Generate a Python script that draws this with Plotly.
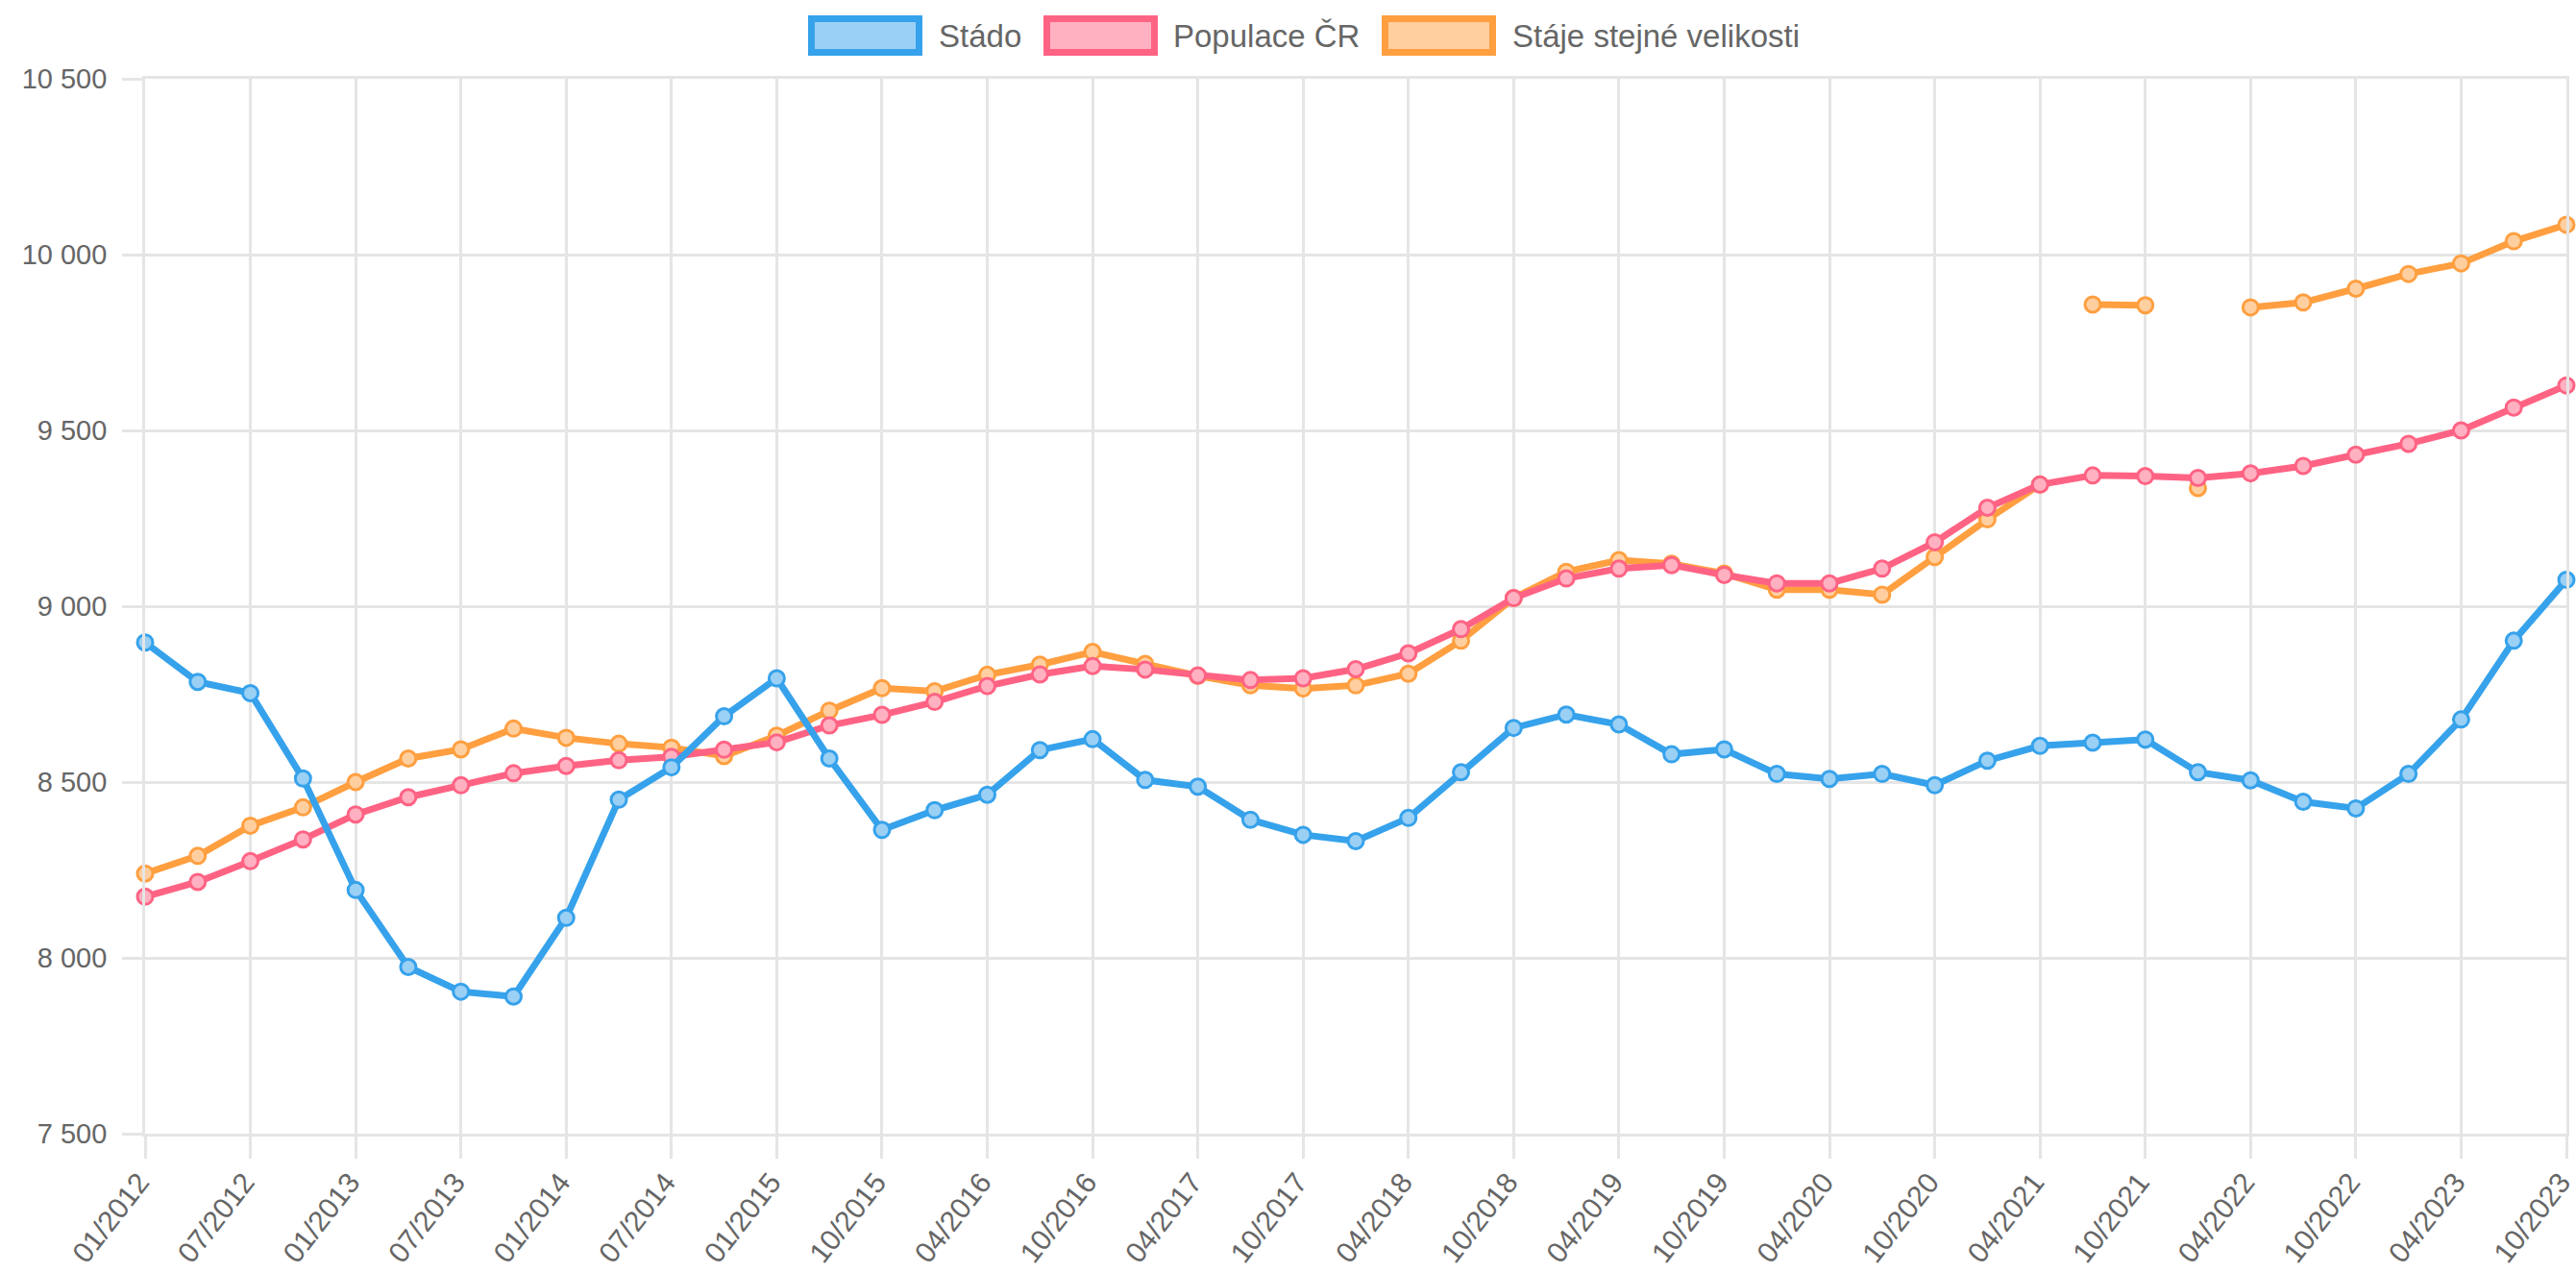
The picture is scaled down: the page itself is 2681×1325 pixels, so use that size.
import plotly.graph_objects as go

categories = [
    "01/2012", "04/2012", "07/2012", "10/2012",
    "01/2013", "04/2013", "07/2013", "10/2013",
    "01/2014", "04/2014", "07/2014", "10/2014",
    "01/2015", "07/2015", "10/2015",
    "01/2016", "04/2016", "07/2016", "10/2016",
    "01/2017", "04/2017", "07/2017", "10/2017",
    "01/2018", "04/2018", "07/2018", "10/2018",
    "01/2019", "04/2019", "07/2019", "10/2019",
    "01/2020", "04/2020", "07/2020", "10/2020",
    "01/2021", "04/2021", "07/2021", "10/2021",
    "01/2022", "04/2022", "07/2022", "10/2022",
    "01/2023", "04/2023", "07/2023", "10/2023",
]

tick_labels = [
    "01/2012", "07/2012", "01/2013", "07/2013", "01/2014", "07/2014",
    "01/2015", "10/2015", "04/2016", "10/2016", "04/2017", "10/2017",
    "04/2018", "10/2018", "04/2019", "10/2019", "04/2020", "10/2020",
    "04/2021", "10/2021", "04/2022", "10/2022", "04/2023", "10/2023",
]

stado = [8897, 8785, 8753, 8510, 8193, 7974, 7904, 7890, 8114, 8450, 8542, 8687,
         8795, 8567, 8364, 8420, 8464, 8591, 8622, 8506, 8487, 8393, 8350, 8332,
         8398, 8528, 8654, 8692, 8664, 8579, 8593, 8523, 8509, 8523, 8491, 8561,
         8603, 8612, 8621, 8528, 8505, 8444, 8425, 8523, 8678, 8902, 9075]

populace = [8174, 8216, 8275, 8337, 8408, 8457, 8491, 8525, 8546, 8562, 8572, 8592,
            8613, 8661, 8691, 8728, 8773, 8806, 8830, 8820, 8803, 8790, 8795, 8821,
            8866, 8935, 9023, 9079, 9107, 9117, 9089, 9065, 9065, 9107, 9182, 9280,
            9346, 9372, 9370, 9365, 9378, 9399, 9431, 9462, 9500, 9565, 9628]

staje = [8240, 8290, 8376, 8428, 8500, 8567, 8593, 8652, 8626, 8609, 8598, 8574,
         8632, 8703, 8767, 8758, 8805, 8834, 8870, 8836, 8802, 8775, 8766, 8775,
         8808, 8902, 9023, 9098, 9131, 9121, 9093, 9047, 9047, 9033, 9140, 9247,
         9346, 9858, 9856, 9336, 9850, 9864, 9903, 9945, 9975, 10038, 10085]

# categories at which the "Stáje" line starts a new (unconnected) segment
staje_segment_starts = ["07/2021", "01/2022", "04/2022"]

series_names = ["Stádo", "Populace ČR", "Stáje stejné velikosti"]
line_colors = ["rgb(54,162,235)", "rgb(255,99,132)", "rgb(255,159,64)"]
fill_colors = ["rgb(155,208,245)", "rgb(255,177,193)", "rgb(255,207,160)"]

# ---- layout geometry (page pixels) ----
W, H = 2681, 1325
PLOT_L, PLOT_R, PLOT_T, PLOT_B = 151, 2671, 82, 1180   # plot area
ML, MT, MR, MB = PLOT_L, PLOT_T, W - PLOT_R, H - PLOT_B
PW, PH = PLOT_R - PLOT_L, PLOT_B - PLOT_T
FONT = "Liberation Sans, Arial, Helvetica, sans-serif"
TXT = "#666666"
GRID = "#e5e5e5"
LW = 7
TICK_FONT = 29


def px(xp):
    return (xp - PLOT_L) / PW


def py(yp):
    return (PLOT_B - yp) / PH


def segments(cats, vals, starts):
    segs, cur = [], ([], [])
    for c, v in zip(cats, vals):
        if c in starts and cur[0]:
            segs.append(cur)
            cur = ([], [])
        cur[0].append(c)
        cur[1].append(v)
    if cur[0]:
        segs.append(cur)
    return segs


fig = go.Figure()


def add_series(xs, ys, i):
    fig.add_trace(go.Scatter(
        x=xs, y=ys, mode="lines+markers", name=series_names[i],
        line=dict(color=line_colors[i], width=LW),
        marker=dict(size=16, color=fill_colors[i], line=dict(color=line_colors[i], width=3)),
        cliponaxis=False, showlegend=False,
    ))


# draw order: last dataset at the bottom, first on top
for xs, ys in segments(categories, staje, staje_segment_starts):
    add_series(xs, ys, 2)
add_series(categories, populace, 1)
add_series(categories, stado, 0)

# custom legend (Chart.js style boxes)
legend_boxes = [(841, 960, 975), (1086, 1205, 1219), (1438, 1557, 1572)]
shapes = []
annotations = []
for i, (bx0, bx1, tx) in enumerate(legend_boxes):
    shapes.append(dict(
        type="rect", xref="paper", yref="paper",
        x0=px(bx0 + 3.5), x1=px(bx1 - 3.5), y0=py(58 - 3.5), y1=py(16 + 3.5),
        line=dict(color=line_colors[i], width=LW), fillcolor=fill_colors[i], layer="above",
    ))
    annotations.append(dict(
        text=series_names[i], xref="paper", yref="paper", x=px(tx), y=py(37),
        xanchor="left", yanchor="middle", showarrow=False,
        font=dict(family=FONT, size=33, color=TXT),
    ))

fig.update_layout(
    width=W, height=H,
    margin=dict(l=ML, r=MR, t=MT, b=MB, pad=0, autoexpand=False),
    paper_bgcolor="white", plot_bgcolor="white",
    font=dict(family=FONT, size=33, color=TXT),
    separators=", ",
    showlegend=False,
    shapes=shapes, annotations=annotations,
    xaxis=dict(
        type="category", categoryorder="array", categoryarray=categories,
        range=[0, len(categories) - 1], automargin=False,
        tickmode="array", tickvals=tick_labels, ticktext=tick_labels,
        tickangle=-52, ticks="outside", ticklen=23, tickwidth=2.7, tickcolor=GRID,
        showgrid=True, gridcolor=GRID, gridwidth=2.7,
        showline=True, linecolor=GRID, linewidth=2.7, mirror=True,
        zeroline=False, ticklabelstandoff=-5, ticklabelshift=-6,
        tickfont=dict(size=30, color=TXT),
    ),
    yaxis=dict(
        range=[7500, 10500], tickmode="linear", tick0=7500, dtick=500, automargin=False,
        tickformat=",d", ticks="outside", ticklen=21, tickwidth=2.7, tickcolor=GRID,
        showgrid=True, gridcolor=GRID, gridwidth=2.7,
        showline=True, linecolor=GRID, linewidth=2.7, mirror=True,
        zeroline=False, ticklabelstandoff=10, tickfont=dict(size=TICK_FONT, color=TXT),
    ),
)

fig.write_html(
    "out.html",
    config={"displayModeBar": False},
    post_script="document.body.style.margin='0px';document.body.style.overflow='hidden';",
)
